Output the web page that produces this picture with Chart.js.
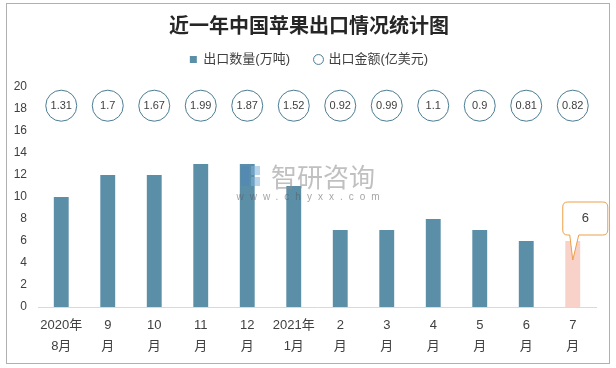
<!DOCTYPE html>
<html>
<head>
<meta charset="utf-8">
<script src="https://cdn.jsdelivr.net/npm/chart.js@4"></script>
<style>
  html, body { margin: 0; padding: 0; background: #fff; }
  #wrap { width: 616px; height: 368px; position: relative; }
</style>
</head>
<body>
<div id="wrap"><canvas id="myChart"></canvas></div>
<script>
// 月份标签（两行）
const months = [
  ['2020年', '8月'], ['9', '月'], ['10', '月'], ['11', '月'], ['12', '月'], ['2021年', '1月'],
  ['2', '月'], ['3', '月'], ['4', '月'], ['5', '月'], ['6', '月'], ['7', '月']
];
// 出口数量(万吨)
const volume = [10, 12, 12, 13, 13, 11, 7, 7, 8, 7, 6, 6];
// 出口金额(亿美元) - shown as labels in the circles
const amount = [1.31, 1.7, 1.67, 1.99, 1.87, 1.52, 0.92, 0.99, 1.1, 0.9, 0.81, 0.82];
// row where the amount circles sit
const amountRow = [18.3, 18.3, 18.3, 18.3, 18.3, 18.3, 18.3, 18.3, 18.3, 18.3, 18.3, 18.3];
const yTicks = [0, 2, 4, 6, 8, 10, 12, 14, 16, 18, 20];

const FONT = '"Liberation Sans", "Noto Sans CJK SC", sans-serif';
const barColor = '#5b8fa8';
const lastColor = '#f8d1c8';
const lastIdx = volume.length - 1;

// empty boxes: one under the legend, one at the right edge of the plot
const spacer = {
  id: 'spacer',
  start(chart) {
    Chart.layouts.addBox(chart, {
      position: 'top',
      weight: 0,
      fullSize: true,
      options: {},
      update(maxWidth) {
        this.width = maxWidth;
        this.height = 11;
      },
      isHorizontal() { return true; },
      draw() {}
    });
    Chart.layouts.addBox(chart, {
      position: 'right',
      weight: 0,
      fullSize: false,
      options: {},
      update(maxWidth, maxHeight) {
        this.width = 12;
        this.height = maxHeight;
      },
      isHorizontal() { return false; },
      draw() {}
    });
  }
};

// frame + watermark behind the chart, labels and callout on top
const decor = {
  id: 'decor',
  beforeDraw(chart) {
    const c = chart.ctx;
    c.save();
    c.fillStyle = '#fff';
    c.fillRect(0, 0, chart.width, chart.height);
    c.strokeStyle = '#b0b0b0';
    c.lineWidth = 1;
    c.strokeRect(6.5, 3.5, 603, 360);
    c.restore();
  },
  afterDatasetsDraw(chart) {
    const c = chart.ctx;
    // watermark
    c.save();
    c.globalAlpha = 0.55;
    c.fillStyle = '#8c8c8c';
    c.textAlign = 'center';
    c.textBaseline = 'middle';
    c.font = '26px "Noto Sans CJK SC", sans-serif';
    c.fillText('智研咨询', 323, 177);
    c.font = '10px ' + FONT;
    c.letterSpacing = '6px';
    c.fillStyle = '#5a5a5a';
    c.fillText('www.chyxx.com', 311, 197);
    c.letterSpacing = '0px';
    c.fillStyle = '#4f86b8';
    c.fillRect(241, 166, 8, 20);
    c.fillStyle = '#7fb2dc';
    c.fillRect(251, 166, 9, 9);
    c.fillRect(251, 177, 9, 9);
    c.restore();

    // amount values in circles
    const pts = chart.getDatasetMeta(1).data;
    c.save();
    c.fillStyle = '#404040';
    c.font = '11px ' + FONT;
    c.textAlign = 'center';
    c.textBaseline = 'middle';
    pts.forEach((p, i) => c.fillText(String(amount[i]), p.x, p.y + 0.5));
    c.restore();

    // callout on the latest bar
    const bar = chart.getDatasetMeta(0).data[lastIdx];
    const bx = bar.x, by = bar.y;
    const l = bx - 10, r = bx + 35, t = by - 39, b = by - 6, rad = 5;
    c.save();
    c.beginPath();
    c.moveTo(l + rad, t);
    c.lineTo(r - rad, t);
    c.quadraticCurveTo(r, t, r, t + rad);
    c.lineTo(r, b - rad);
    c.quadraticCurveTo(r, b, r - rad, b);
    c.lineTo(bx + 6, b);
    c.lineTo(bx, by + 19);
    c.lineTo(bx - 3, b);
    c.lineTo(l + rad, b);
    c.quadraticCurveTo(l, b, l, b - rad);
    c.lineTo(l, t + rad);
    c.quadraticCurveTo(l, t, l + rad, t);
    c.closePath();
    c.fillStyle = '#fff';
    c.fill();
    c.strokeStyle = '#eda048';
    c.lineWidth = 1;
    c.stroke();
    c.fillStyle = '#404040';
    c.font = '13px ' + FONT;
    c.textAlign = 'center';
    c.textBaseline = 'middle';
    c.fillText(String(volume[lastIdx]), (l + r) / 2, (t + b) / 2);
    c.restore();
  }
};

const ctx = document.getElementById('myChart').getContext('2d');

const myChart = new Chart(ctx, {
  type: 'bar',
  data: {
    labels: months,
    datasets: [{
      label: '出口数量(万吨)',
      data: volume,
      backgroundColor: c => c.dataIndex === lastIdx ? lastColor : barColor,
      barPercentage: 0.64,
      categoryPercentage: 0.5,
      pointStyle: 'rect'
    }, {
      type: 'line',
      label: '出口金额(亿美元)',
      data: amountRow,
      showLine: false,
      pointRadius: 15.5,
      pointHoverRadius: 15.5,
      pointBorderWidth: 1,
      pointBorderColor: '#4c7d93',
      pointBackgroundColor: '#fff',
      borderColor: '#7f9fb0',
      backgroundColor: '#fff',
      pointStyle: 'circle'
    }]
  },
  options: {
    responsive: true,
    maintainAspectRatio: false,
    animation: false,
    layout: { padding: { left: 10, right: 8, top: 0, bottom: 0 } },
    plugins: {
      title: {
        display: true,
        text: '近一年中国苹果出口情况统计图',
        color: '#262626',
        font: { family: '"Noto Sans CJK SC", sans-serif', size: 20, weight: 'bold', lineHeight: 1.2 },
        padding: { top: 13, bottom: -9 }
      },
      legend: {
        display: true,
        labels: {
          usePointStyle: true,
          boxHeight: 7,
          boxWidth: 7,
          padding: 25,
          color: '#404040',
          font: { family: FONT, size: 13 }
        }
      },
      tooltip: { enabled: false }
    },
    scales: {
      x: {
        grid: { display: false, drawTicks: false },
        border: { display: true, color: '#d9d9d9', width: 1 },
        ticks: {
          color: '#404040',
          padding: 8,
          maxRotation: 0,
          autoSkip: false,
          font: { family: FONT, size: 13, lineHeight: 1.6 }
        },
        afterFit: s => { s.height = 61; }
      },
      y: {
        min: 0,
        max: 20,
        afterBuildTicks: s => { s.ticks = yTicks.map(v => ({ value: v })); },
        grid: { display: false, drawTicks: false },
        border: { display: false },
        ticks: {
          color: '#404040',
          padding: 11,
          font: { family: FONT, size: 12 }
        },
        afterFit: s => { s.width = 28; }
      }
    }
  },
  plugins: [spacer, decor]
});
</script>
</body>
</html>
